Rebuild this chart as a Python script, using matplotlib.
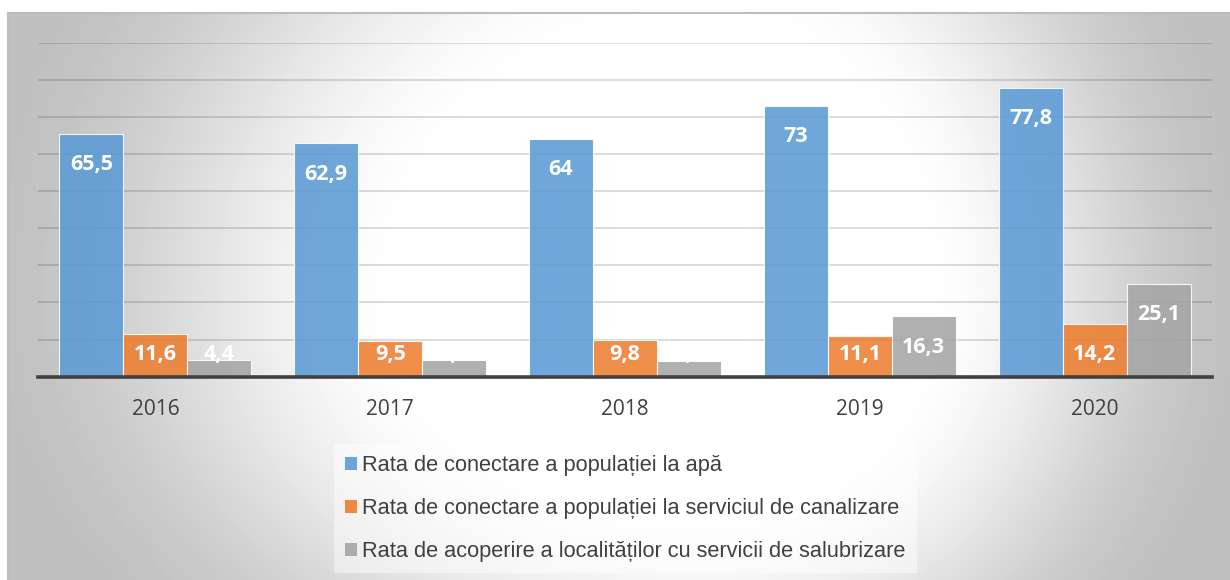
import matplotlib
matplotlib.use('Agg')
import matplotlib.pyplot as plt
import numpy as np
from matplotlib.patches import Patch

plt.rcParams['font.family'] = ['Open Sans', 'DejaVu Sans']

# ── Data ──
YEARS = ['2016', '2017', '2018', '2019', '2020']
APA = [65.5, 62.9, 64.0, 73.0, 77.8]
CANAL = [11.6, 9.5, 9.8, 11.1, 14.2]
SALUB = [4.4, 4.5, 4.3, 16.3, 25.1]
SERIES_NAMES = ['Rata de conectare a populației la apă',
                'Rata de conectare a populației la serviciul de canalizare',
                'Rata de acoperire a localităților cu servicii de salubrizare']
COLORS = ['#5B9BD5', '#ED7D31', '#A5A5A5']

def fmt(v):
    s = f'{v:.1f}'.replace('.', ',')
    return s[:-2] if s.endswith(',0') else s

W, H = 1230, 580
fig = plt.figure(figsize=(W / 100, H / 100), dpi=100)
fig.patch.set_facecolor('white')

# ── background gradient panel (white centre, grey edges) ──
bg = fig.add_axes([8 / W, 0, (W - 8) / W, (H - 13) / H], zorder=-5)
yy, xx = np.mgrid[13:H, 8:W].astype(float)
cx, cy = 700.0, 300.0
rx = np.where(xx < cx, 700.0, 530.0)
ry = np.where(yy < cy, 650.0, 500.0)
d = np.sqrt(((xx - cx) / rx) ** 2 + ((yy - cy) / ry) ** 2)
t = np.clip((d - 0.4) / 0.65, 0, 1)
t = t * t * (3 - 2 * t)
g = 1 - 0.25 * t
bg.imshow(g, cmap='gray', vmin=0, vmax=1, aspect='auto', interpolation='bilinear')
bg.set_axis_off()
bg.plot([0, 1], [1, 1], transform=bg.transAxes, color='#bdbdbd', lw=1.5, clip_on=False)
bg.plot([0, 0], [0, 1], transform=bg.transAxes, color='#bdbdbd', lw=1.5, clip_on=False)

# ── main axes ──
ax = fig.add_axes([38 / W, (H - 376.7) / H, 1174 / W, 334 / H])
ax.patch.set_alpha(0)
x = np.arange(len(YEARS))
bw = 0.2726
for i, (vals, color) in enumerate(zip([APA, CANAL, SALUB], COLORS)):
    pos = x + (i - 1) * bw
    ax.bar(pos, vals, bw, color=color, alpha=0.88, edgecolor=(1, 1, 1, 0.6),
           linewidth=0.8, zorder=3)
    # labels sit just inside the bar top, but never lower than a floor
    for px, v in zip(pos, vals):
        ly = max(v - 8.3, 5.9)
        ax.text(px, ly, fmt(v), ha='center', va='center', color='white',
                fontsize=15.5, fontweight='bold', zorder=4)

ax.set_xlim(-0.5, len(YEARS) - 0.5)
ax.set_ylim(0, 90)
ax.set_yticks(np.arange(10, 91, 10))
ax.yaxis.grid(True, color='black', alpha=0.16, linewidth=1.2, zorder=0)
ax.set_axisbelow(True)
ax.tick_params(axis='y', left=False, labelleft=False)
ax.tick_params(axis='x', length=0, pad=16, labelsize=15, labelcolor='#404040')
ax.set_xticks(x)
ax.set_xticklabels(YEARS)
for s in ['top', 'right', 'left']:
    ax.spines[s].set_visible(False)
ax.spines['bottom'].set_color('#404040')
ax.spines['bottom'].set_linewidth(2.6)
ax.spines['bottom'].set_zorder(5)

handles = [Patch(facecolor=c, edgecolor='none', alpha=0.9) for c in COLORS]
leg = fig.legend(handles, SERIES_NAMES, loc='upper left',
                 bbox_to_anchor=(323 / W, 1 - 433 / H), frameon=True,
                 labelcolor='#404040', handlelength=0.55,
                 handleheight=0.55, handletextpad=0.25, labelspacing=1.02,
                 borderpad=0.5, prop={'family': ['Liberation Sans', 'DejaVu Sans'], 'size': 15.7})
leg.get_frame().set_facecolor('white')
leg.get_frame().set_alpha(0.45)
leg.get_frame().set_edgecolor('none')
leg.get_frame().set_boxstyle('square', pad=0)

fig.savefig('out.png', dpi=100)
